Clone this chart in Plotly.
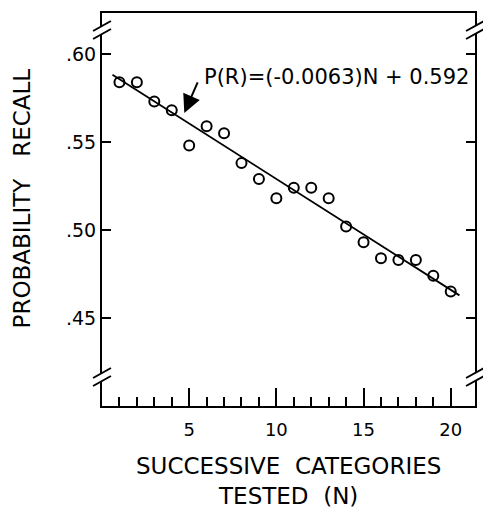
import plotly.graph_objects as go

# ---- data ----
categories_n = list(range(1, 21))
prob_recall = [0.584, 0.584, 0.573, 0.568, 0.548, 0.559, 0.555, 0.538, 0.529, 0.518,
               0.524, 0.524, 0.518, 0.502, 0.493, 0.484, 0.483, 0.483, 0.474, 0.465]
fit_slope = -0.0063
fit_intercept = 0.592
fit_n = [0.6, 20.5]
fit_p = [fit_intercept + fit_slope * n for n in fit_n]

x_tickvals = [5, 10, 15, 20]
x_minor_vals = list(range(1, 20))
y_tickvals = [0.45, 0.50, 0.55, 0.60]
y_ticktext = [".45", ".50", ".55", ".60"]
fit_label = "P(R)=(-0.0063)N + 0.592"
x_title = "SUCCESSIVE  CATEGORIES<br>TESTED  (N)"
y_title = "PROBABILITY   RECALL"

# ---- geometry (pixels) ----
W, H = 483, 518
L, R, T, B = 102, 477, 13, 406
FONT = "DejaVu Sans"


def px(x):
    return (x - L) / (R - L)


def py(y):
    return (B - y) / (B - T)


fig = go.Figure()
fig.add_trace(go.Scatter(x=fit_n, y=fit_p, mode="lines",
                         line=dict(color="black", width=1.8), hoverinfo="skip"))
fig.add_trace(go.Scatter(x=categories_n, y=prob_recall, mode="markers",
                         marker=dict(symbol="circle-open", size=10, color="black",
                                     line=dict(width=2, color="black"))))

shapes = []
for ax_px in (L, R):
    for yc in (30, 377):
        shapes.append(dict(type="rect", xref="paper", yref="paper",
                           x0=px(ax_px - 4), x1=px(ax_px + 4),
                           y0=py(yc + 4), y1=py(yc - 4),
                           fillcolor="white", line=dict(width=0), layer="above"))
        for off in (-4, 4):
            shapes.append(dict(type="line", xref="paper", yref="paper",
                               x0=px(ax_px - 9), y0=py(yc + off + 5),
                               x1=px(ax_px + 9), y1=py(yc + off - 5),
                               line=dict(color="black", width=2), layer="above"))

annotations = [
    dict(x=5.75, y=0.5869, xref="x", yref="y", text=fit_label, showarrow=False,
         xanchor="left", yanchor="middle", font=dict(family=FONT, size=21, color="black")),
    dict(x=4.72, y=0.5665, xref="x", yref="y", text="", showarrow=True,
         ax=14, ay=-32, arrowhead=2, arrowsize=1.8, arrowwidth=2, arrowcolor="black",
         standoff=0),
    dict(x=px(22), y=py(198), xref="paper", yref="paper", text=y_title, showarrow=False,
         textangle=-90, xanchor="center", yanchor="middle",
         font=dict(family=FONT, size=23, color="black")),
    dict(x=px(290), y=py(481), xref="paper", yref="paper", text=x_title, showarrow=False,
         xanchor="center", yanchor="middle",
         font=dict(family=FONT, size=23, color="black")),
]

fig.update_layout(
    width=W, height=H,
    margin=dict(l=L, r=W - R, t=T, b=H - B, pad=0),
    paper_bgcolor="white", plot_bgcolor="white",
    showlegend=False,
    shapes=shapes, annotations=annotations,
    font=dict(family=FONT, color="black"),
)
fig.update_xaxes(
    range=[0, (R - L) / 17.53], showgrid=False, zeroline=False,
    showline=True, linecolor="black", linewidth=2, mirror=True,
    tickmode="array", tickvals=x_tickvals, ticks="inside", ticklen=18, tickwidth=2,
    tickcolor="black", ticklabelstandoff=6,
    tickfont=dict(family=FONT, size=18, color="black"),
    minor=dict(tickmode="array", tickvals=x_minor_vals, ticks="inside", ticklen=9,
               tickwidth=2, tickcolor="black", showgrid=False),
)
fig.update_yaxes(
    range=[0.40, 0.60 + (54 - T) / 1760], showgrid=False, zeroline=False,
    showline=True, linecolor="black", linewidth=2, mirror="ticks",
    tickmode="array", tickvals=y_tickvals, ticktext=y_ticktext,
    ticks="inside", ticklen=9, tickwidth=2, tickcolor="black",
    tickfont=dict(family=FONT, size=19, color="black"),
)

fig.write_html("out.html")
